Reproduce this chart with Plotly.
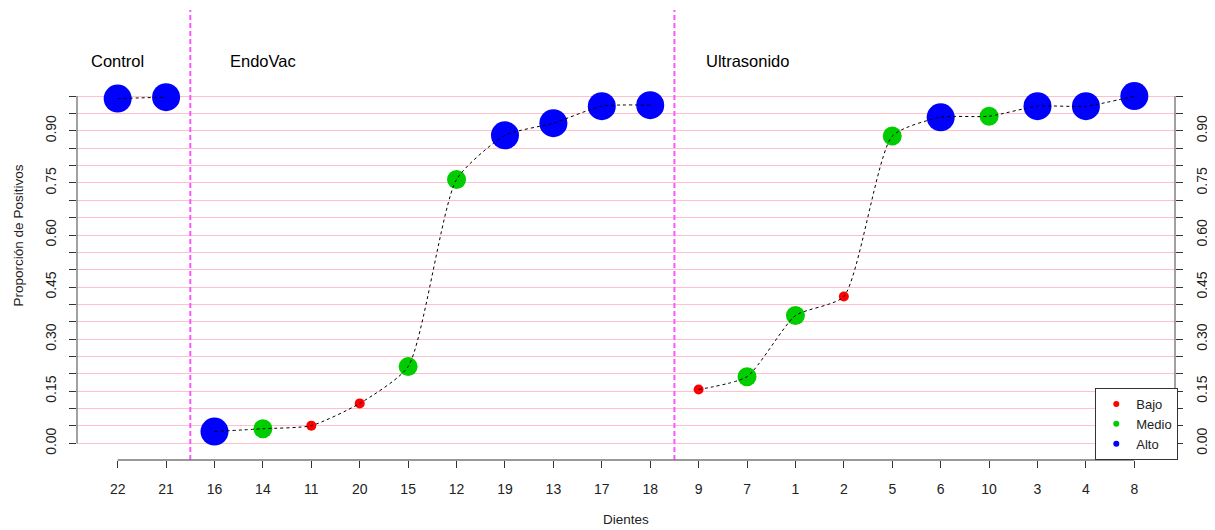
import plotly.graph_objects as go

dientes = ["22", "21", "16", "14", "11", "20", "15", "12", "19", "13", "17", "18",
           "9", "7", "1", "2", "5", "6", "10", "3", "4", "8"]
proporcion = [0.993, 0.997, 0.034, 0.042, 0.051, 0.115, 0.221, 0.760, 0.887, 0.922, 0.971, 0.974,
              0.155, 0.192, 0.368, 0.423, 0.885, 0.939, 0.942, 0.971, 0.971, 1.000]
nivel = ["Alto", "Alto", "Alto", "Medio", "Bajo", "Bajo", "Medio", "Medio", "Alto", "Alto", "Alto", "Alto",
         "Bajo", "Medio", "Medio", "Bajo", "Medio", "Alto", "Medio", "Alto", "Alto", "Alto"]
grupos = ["Control", "EndoVac", "Ultrasonido"]
grupo_tam = [2, 10, 10]
grupo_label_x = [1, 4, 14]
separadores = [2.5, 12.5]
niveles = ["Bajo", "Medio", "Alto"]
colores = {"Bajo": "#FF0000", "Medio": "#00CD00", "Alto": "#0000FF"}
tamanos = {"Bajo": 10, "Medio": 19, "Alto": 28}

ytick_vals = [round(i * 0.05, 2) for i in range(21)]
ytick_text = [f"{v:.2f}" if round(v / 0.15, 6) == int(round(v / 0.15, 6)) and v <= 0.9 else "" for v in ytick_vals]

pos = list(range(1, len(dientes) + 1))
font = "Liberation Sans, Arial, sans-serif"

fig = go.Figure()

# markers
for nv in niveles:
    xs = [p for p, n in zip(pos, nivel) if n == nv]
    ys = [v for v, n in zip(proporcion, nivel) if n == nv]
    fig.add_trace(go.Scatter(x=xs, y=ys, mode="markers",
                             marker=dict(color=colores[nv], size=tamanos[nv], line=dict(width=0)),
                             showlegend=False, hoverinfo="skip"))

# dashed lines per group
start = 0
for g, n in zip(grupos, grupo_tam):
    fig.add_trace(go.Scatter(x=pos[start:start + n], y=proporcion[start:start + n], mode="lines",
                             line=dict(color="black", width=1, dash="3px,3px", shape="spline", smoothing=0.6),
                             showlegend=False, hoverinfo="skip"))
    start += n

# legend entries
for nv in niveles:
    fig.add_trace(go.Scatter(x=[None], y=[None], mode="markers", name=nv,
                             marker=dict(color=colores[nv], size=6)))

# invisible trace for right axis
fig.add_trace(go.Scatter(x=[1], y=[0], yaxis="y2", mode="markers", marker=dict(opacity=0),
                         showlegend=False, hoverinfo="skip"))

shapes = []
for s in separadores:
    shapes.append(dict(type="line", xref="x", yref="paper", x0=s, x1=s, y0=0, y1=1,
                       line=dict(color="#FF55FF", width=2, dash="5px,3px")))
# axis lines (R-style, spanning tick range)
shapes.append(dict(type="line", xref="paper", yref="y", x0=0, x1=0, y0=0, y1=1,
                   line=dict(color="#444", width=1)))
shapes.append(dict(type="line", xref="paper", yref="y", x0=1, x1=1, y0=0, y1=1,
                   line=dict(color="#444", width=1)))
shapes.append(dict(type="line", xref="x", yref="paper", x0=1, x1=len(dientes), y0=0, y1=0,
                   line=dict(color="#777", width=1.5)))

annotations = []
for g, gx in zip(grupos, grupo_label_x):
    annotations.append(dict(x=gx, y=1.1, xref="x", yref="y", text=g, showarrow=False,
                            font=dict(size=16.5, color="black", family=font)))
annotations.append(dict(x=-0.062, y=0.5, xref="paper", yref="paper", text="Proporción de Positivos",
                        textangle=-90, showarrow=False, font=dict(size=13.5, color="#222", family=font)))
annotations.append(dict(x=0.5, y=-0.153, xref="paper", yref="paper", text="Dientes",
                        showarrow=False, font=dict(size=13.5, color="#222", family=font)))

yaxis_common = dict(range=[-0.048, 1.248], tickvals=ytick_vals, ticktext=ytick_text,
                    tickangle=-90, ticks="outside", ticklen=7, tickcolor="#333",
                    tickfont=dict(size=14, color="#222", family=font),
                    showline=False, zeroline=False, automargin=False)

fig.update_layout(
    width=1207, height=522,
    margin=dict(l=69, r=40, t=2, b=70),
    paper_bgcolor="white", plot_bgcolor="white",
    font=dict(family=font, color="#222"),
    xaxis=dict(range=[0.16, 22.84], tickvals=pos, ticktext=dientes, ticks="outside",
               ticklen=7, tickcolor="#333", showgrid=False, zeroline=False, showline=False,
               tickfont=dict(size=14, color="#222", family=font), ticklabelstandoff=9,
               automargin=False),
    yaxis=dict(**yaxis_common, showgrid=True, gridcolor="#FFC0CB", gridwidth=1, ticklabelstandoff=7),
    yaxis2=dict(**yaxis_common, overlaying="y", side="right", showgrid=False, ticklabelstandoff=7),
    legend=dict(x=1.003, y=0, xanchor="right", yanchor="bottom", bgcolor="white",
                bordercolor="#333", borderwidth=1, font=dict(size=13, color="#222", family=font),
                itemwidth=30, tracegroupgap=0),
    shapes=shapes, annotations=annotations,
)

fig.write_html("out.html")
